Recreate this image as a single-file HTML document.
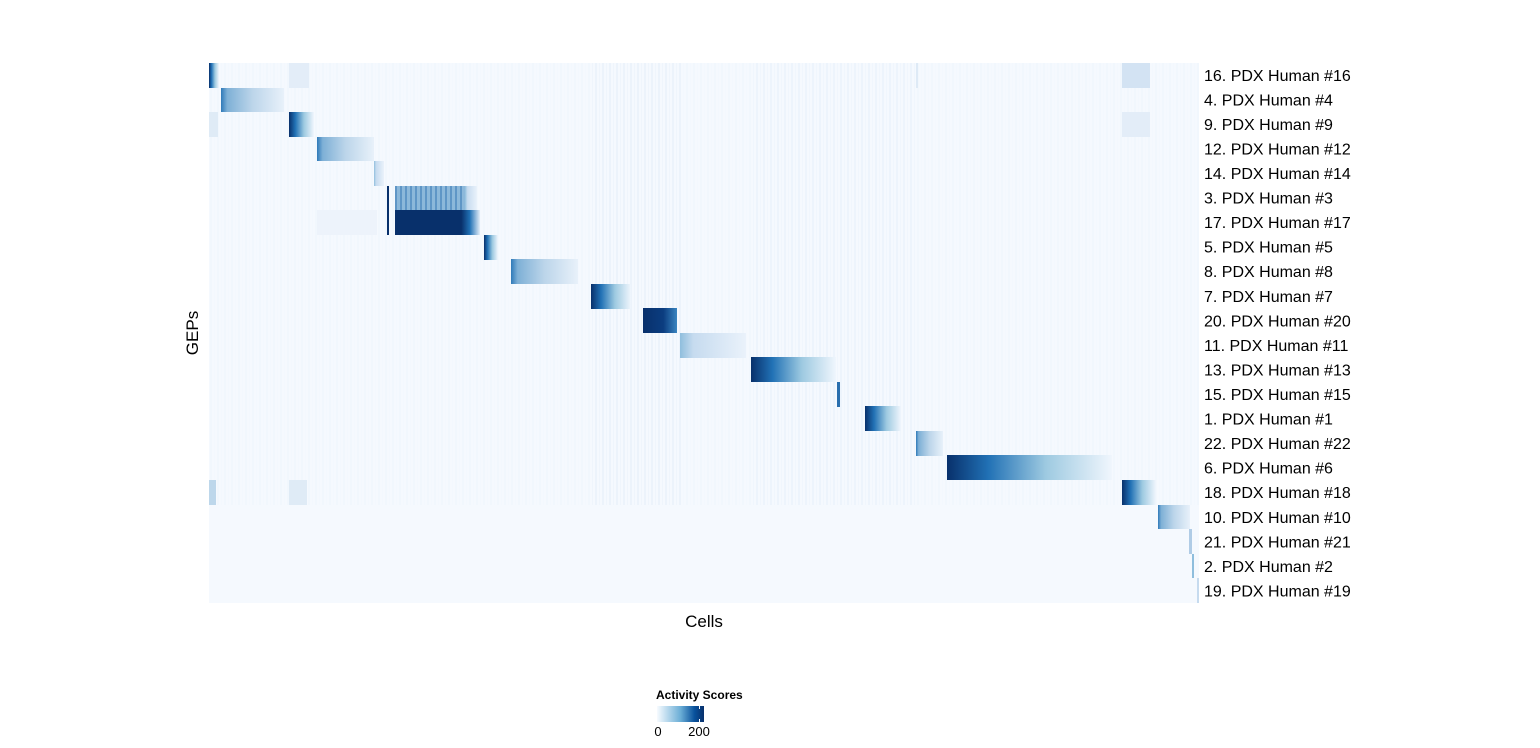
<!DOCTYPE html>
<html><head><style>
body{margin:0;background:#fff;width:1540px;height:743px;overflow:hidden;font-family:"Liberation Sans",Arial,sans-serif}
</style></head><body>
<svg width="1540" height="743" xmlns="http://www.w3.org/2000/svg" font-family="Liberation Sans, Arial, sans-serif">
<defs>
<linearGradient id="dk"><stop offset="0" stop-color="#08306b"/><stop offset="0.25" stop-color="#2171b5"/><stop offset="0.6" stop-color="#9ecae1"/><stop offset="1" stop-color="#f0f6fd"/></linearGradient>
<linearGradient id="md"><stop offset="0" stop-color="#2f7ab9"/><stop offset="0.1" stop-color="#7eb0d6"/><stop offset="0.5" stop-color="#bcd5ea"/><stop offset="1" stop-color="#e8f1fa"/></linearGradient>
<linearGradient id="lt"><stop offset="0" stop-color="#8fbedd"/><stop offset="0.2" stop-color="#c6dbef"/><stop offset="1" stop-color="#eaf2fb"/></linearGradient>
<linearGradient id="nv"><stop offset="0" stop-color="#08306b"/><stop offset="0.78" stop-color="#08306b"/><stop offset="0.88" stop-color="#2171b5"/><stop offset="1" stop-color="#e3eef9"/></linearGradient>
<linearGradient id="n2"><stop offset="0" stop-color="#08306b"/><stop offset="0.6" stop-color="#0b3d80"/><stop offset="1" stop-color="#3a85c0"/></linearGradient>
<linearGradient id="leg"><stop offset="0" stop-color="#f7fbff"/><stop offset="0.5" stop-color="#6baed6"/><stop offset="0.8" stop-color="#08519c"/><stop offset="1" stop-color="#08306b"/></linearGradient>
<pattern id="str" width="7" height="10" patternUnits="userSpaceOnUse"><rect width="2" height="10" fill="#e4eef9"/><rect x="4" width="1" height="10" fill="#eaf2fb"/></pattern>
<pattern id="str2" width="5" height="10" patternUnits="userSpaceOnUse"><rect width="2" height="10" fill="#5f96c6"/><rect x="2" width="3" height="10" fill="#8cb8da"/></pattern>
</defs>
<rect x="209" y="63" width="990" height="540" fill="#f5f9fe"/>
<g opacity="0.7">
<rect x="209" y="63" width="990" height="442" fill="url(#str)" opacity="0.35"/>
<rect x="592" y="63" width="90" height="442" fill="url(#str)" opacity="0.6"/>
<rect x="752" y="63" width="165" height="442" fill="url(#str)" opacity="0.5"/>
<rect x="1122" y="63" width="28" height="25" fill="#c6dbef"/>
<rect x="1122" y="112" width="28" height="25" fill="#dce9f6"/>
<rect x="209" y="112" width="9" height="25" fill="#d6e6f4"/>
<rect x="289" y="63" width="20" height="25" fill="#dce9f6"/>
<rect x="209" y="480" width="7" height="25" fill="#a6c9e4"/>
<rect x="289" y="480" width="18" height="25" fill="#d6e6f4"/>
<rect x="317" y="210" width="60" height="25" fill="#eaf1fa"/>
<rect x="916" y="63" width="2" height="25" fill="#d5e5f3"/>
</g>
<rect x="209" y="63" width="10" height="25" fill="url(#dk)"/>
<rect x="221" y="88" width="63" height="24" fill="url(#md)"/>
<rect x="289" y="112" width="25" height="25" fill="url(#dk)"/>
<rect x="317" y="137" width="57" height="24" fill="url(#md)"/>
<rect x="374" y="161" width="10" height="25" fill="url(#lt)"/>
<rect x="387" y="186" width="2" height="49" fill="#08306b"/>
<rect x="395" y="186" width="70" height="24" fill="url(#str2)"/>
<rect x="465" y="186" width="12" height="24" fill="url(#lt)"/>
<rect x="395" y="210" width="85" height="25" fill="url(#nv)"/>
<rect x="484" y="235" width="14" height="25" fill="url(#dk)"/>
<rect x="511" y="259" width="67" height="25" fill="url(#md)"/>
<rect x="591" y="284" width="40" height="25" fill="url(#dk)"/>
<rect x="643" y="308" width="34" height="25" fill="url(#n2)"/>
<rect x="680" y="333" width="66" height="25" fill="url(#lt)"/>
<rect x="751" y="357" width="85" height="25" fill="url(#dk)"/>
<rect x="837" y="382" width="3" height="25" fill="#2a6fae"/>
<rect x="865" y="406" width="36" height="25" fill="url(#dk)"/>
<rect x="916" y="431" width="27" height="25" fill="url(#md)"/>
<rect x="947" y="455" width="165" height="25" fill="url(#dk)"/>
<rect x="1122" y="480" width="34" height="25" fill="url(#dk)"/>
<rect x="1158" y="505" width="32" height="24" fill="url(#md)"/>
<rect x="1189" y="529" width="3" height="25" fill="#b0cce6"/>
<rect x="1192" y="554" width="2" height="24" fill="#8fbedd"/>
<rect x="1197" y="578" width="2" height="25" fill="#c6dbef"/>
<g font-size="16" fill="#000">
<text x="1204" y="81">16. PDX Human #16</text>
<text x="1204" y="105.5">4. PDX Human #4</text>
<text x="1204" y="130">9. PDX Human #9</text>
<text x="1204" y="154.5">12. PDX Human #12</text>
<text x="1204" y="179">14. PDX Human #14</text>
<text x="1204" y="203.5">3. PDX Human #3</text>
<text x="1204" y="228">17. PDX Human #17</text>
<text x="1204" y="252.5">5. PDX Human #5</text>
<text x="1204" y="277">8. PDX Human #8</text>
<text x="1204" y="302">7. PDX Human #7</text>
<text x="1204" y="326.5">20. PDX Human #20</text>
<text x="1204" y="351">11. PDX Human #11</text>
<text x="1204" y="375.5">13. PDX Human #13</text>
<text x="1204" y="400">15. PDX Human #15</text>
<text x="1204" y="424.5">1. PDX Human #1</text>
<text x="1204" y="449">22. PDX Human #22</text>
<text x="1204" y="473.5">6. PDX Human #6</text>
<text x="1204" y="498">18. PDX Human #18</text>
<text x="1204" y="523">10. PDX Human #10</text>
<text x="1204" y="547.5">21. PDX Human #21</text>
<text x="1204" y="572">2. PDX Human #2</text>
<text x="1204" y="596.5">19. PDX Human #19</text>
</g>
<text x="704" y="627" font-size="17" text-anchor="middle">Cells</text>
<text transform="translate(198,333) rotate(-90)" font-size="17" text-anchor="middle">GEPs</text>
<text x="656" y="699" font-size="12" font-weight="bold">Activity Scores</text>
<rect x="657" y="706" width="47" height="16" fill="url(#leg)"/>
<rect x="699" y="706" width="1" height="3" fill="#fff"/><rect x="699" y="719" width="1" height="3" fill="#fff"/>
<text x="658" y="736" font-size="13" text-anchor="middle">0</text>
<text x="699" y="736" font-size="13" text-anchor="middle">200</text>
</svg>
</body></html>
